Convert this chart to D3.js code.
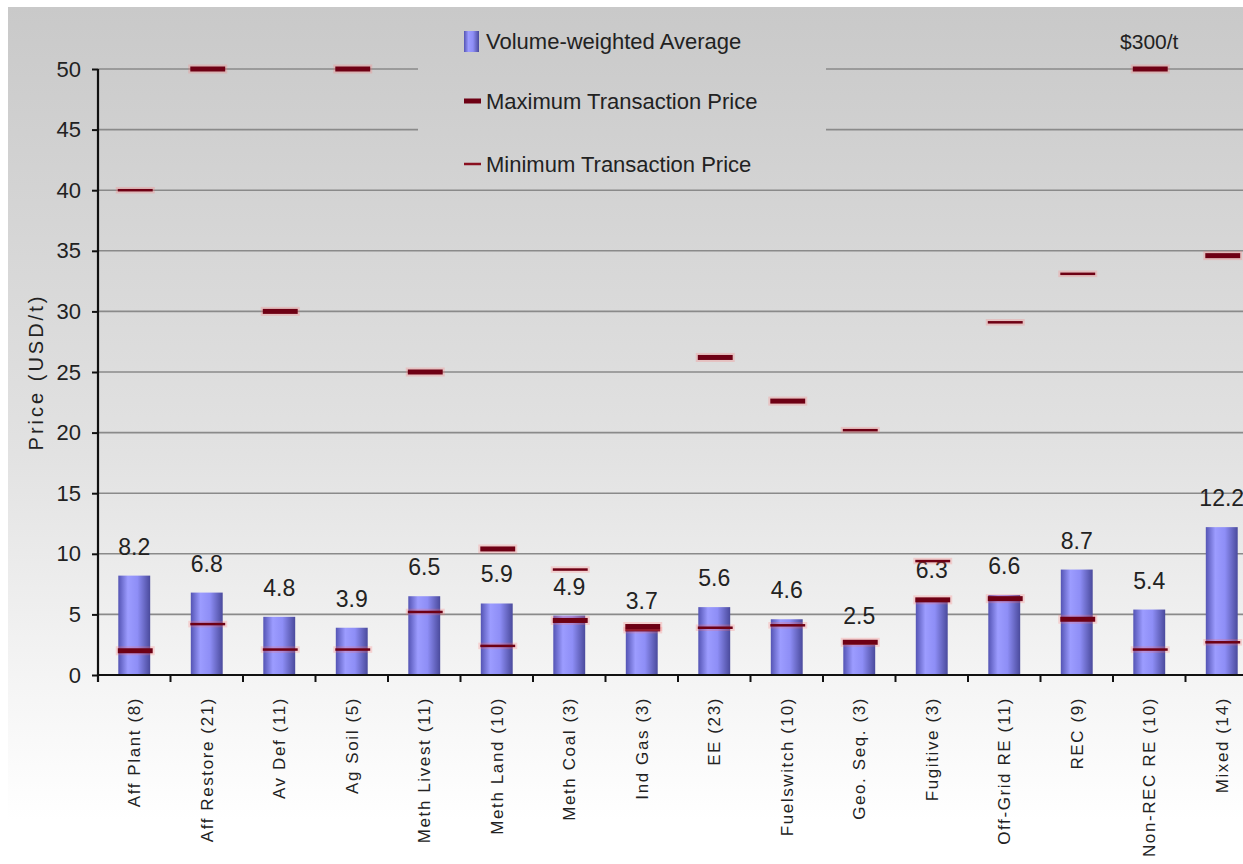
<!DOCTYPE html>
<html>
<head>
<meta charset="utf-8">
<script src="https://cdn.jsdelivr.net/npm/d3@7"></script>
<style>
  body { margin: 0; background: #fff; }
  svg { display: block; font-family: Arial, "Liberation Sans", sans-serif; }
</style>
</head>
<body>
<div id="chart"></div>
<script>
// data
const categories = ['Aff Plant (8)', 'Aff Restore (21)', 'Av Def (11)', 'Ag Soil (5)', 'Meth Livest (11)',
  'Meth Land (10)', 'Meth Coal (3)', 'Ind Gas (3)', 'EE (23)', 'Fuelswitch (10)', 'Geo. Seq. (3)',
  'Fugitive (3)', 'Off-Grid RE (11)', 'REC (9)', 'Non-REC RE (10)', 'Mixed (14)'];
const avgPrice = [8.2, 6.8, 4.8, 3.9, 6.5, 5.9, 4.9, 3.7, 5.6, 4.6, 2.5, 6.3, 6.6, 8.7, 5.4, 12.2];
const maxPrice = [2.0, 50, 30, 50, 25, 10.4, 4.5, 4.0, 26.2, 22.6, 2.7, 6.2, 6.3, 4.6, 50, 34.6];
const minPrice = [40, 4.2, 2.1, 2.1, 5.2, 2.4, 8.7, 3.7, 3.9, 4.1, 20.2, 9.4, 29.1, 33.1, 2.1, 2.7];
const yTicks = [0, 5, 10, 15, 20, 25, 30, 35, 40, 45, 50];
const legendLabels = ['Volume-weighted Average', 'Maximum Transaction Price', 'Minimum Transaction Price'];
const offScaleNote = '$300/t';

const w = 1243;
const h = 864;
const left = 98;
const bandW = 72.5;

const svg = d3.select('#chart')
              .append('svg')
              .attr('width', w)
              .attr('height', h);

const defs = svg.append('defs');

const bg = defs.append('linearGradient')
               .attr('id', 'bg')
               .attr('gradientUnits', 'userSpaceOnUse')
               .attr('x1', 0).attr('y1', 7).attr('x2', 0).attr('y2', 820);
bg.append('stop').attr('offset', '0%').attr('stop-color', '#c9c9c9');
bg.append('stop').attr('offset', '55%').attr('stop-color', '#e2e2e2');
bg.append('stop').attr('offset', '82%').attr('stop-color', '#f4f4f4');
bg.append('stop').attr('offset', '100%').attr('stop-color', '#ffffff');

const barGrad = defs.append('linearGradient')
                    .attr('id', 'bar')
                    .attr('x1', 0).attr('y1', 0).attr('x2', 1).attr('y2', 0);
barGrad.append('stop').attr('offset', '0%').attr('stop-color', '#5454b4');
barGrad.append('stop').attr('offset', '30%').attr('stop-color', '#9c9cff');
barGrad.append('stop').attr('offset', '60%').attr('stop-color', '#8e8ef6');
barGrad.append('stop').attr('offset', '100%').attr('stop-color', '#4a4a9c');

//Background
svg.append('rect')
   .attr('x', 8)
   .attr('y', 7)
   .attr('width', w - 8)
   .attr('height', h - 7)
   .attr('fill', 'url(#bg)');

//Scales
const xScale = d3.scaleBand()
                 .domain(categories)
                 .range([left, left + bandW * categories.length])
                 .padding(0);

const yScale = d3.scaleLinear()
                 .domain([0, 50])
                 .range([675, 69]);

const barW = xScale.bandwidth() * 0.44;

//Gridlines
svg.selectAll('line.grid')
   .data(yTicks.filter(d => d > 0))
   .enter()
   .append('line')
   .attr('class', 'grid')
   .attr('x1', left)
   .attr('x2', w)
   .attr('y1', d => yScale(d))
   .attr('y2', d => yScale(d))
   .attr('stroke', '#8a8a8a')
   .attr('stroke-width', 1.6);

//Legend box hides the gridlines behind it
svg.append('rect')
   .attr('x', 418)
   .attr('y', 8)
   .attr('width', 408)
   .attr('height', 172)
   .attr('fill', 'url(#bg)');

//Bars
svg.selectAll('rect.bar')
   .data(avgPrice)
   .enter()
   .append('rect')
   .attr('class', 'bar')
   .attr('x', (d, i) => xScale(categories[i]) + (xScale.bandwidth() - barW) / 2)
   .attr('y', d => yScale(d))
   .attr('width', barW)
   .attr('height', d => yScale(0) - yScale(d))
   .attr('fill', 'url(#bar)');

//Value labels
svg.selectAll('text.value')
   .data(avgPrice)
   .enter()
   .append('text')
   .attr('class', 'value')
   .attr('x', (d, i) => xScale(categories[i]) + xScale.bandwidth() / 2)
   .attr('y', d => yScale(d) - 21)
   .attr('text-anchor', 'middle')
   .attr('font-size', 23)
   .attr('fill', '#222')
   .text(d => d.toFixed(1));

//Markers
function drawMarkers(values, thick, cls) {
  const mW = barW + 3;
  const g = svg.append('g').attr('class', cls);
  g.selectAll('rect.glow')
   .data(values)
   .enter()
   .append('rect')
   .attr('x', (d, i) => xScale(categories[i]) + (xScale.bandwidth() - mW) / 2 - 1)
   .attr('y', d => yScale(d) - thick / 2 - 2)
   .attr('width', mW + 4)
   .attr('height', thick + 4)
   .attr('fill', '#ff7070')
   .attr('opacity', 0.25);
  g.selectAll('rect.mark')
   .data(values)
   .enter()
   .append('rect')
   .attr('x', (d, i) => xScale(categories[i]) + (xScale.bandwidth() - mW) / 2 + 1)
   .attr('y', d => yScale(d) - thick / 2)
   .attr('width', mW)
   .attr('height', thick)
   .attr('fill', '#6e0014');
}
drawMarkers(minPrice, 2.5, 'min');
drawMarkers(maxPrice, 5, 'max');

//Axes
const yAxis = d3.axisLeft(yScale)
                .tickValues(yTicks)
                .tickSize(6)
                .tickSizeOuter(0)
                .tickPadding(11);

const yG = svg.append('g')
              .attr('transform', `translate(${left}, 0)`)
              .call(yAxis);
yG.select('.domain').remove();
yG.selectAll('line').attr('stroke', '#111').attr('stroke-width', 2);
yG.selectAll('text')
  .attr('font-size', 22)
  .attr('font-family', 'Arial, "Liberation Sans", sans-serif')
  .attr('fill', '#222');

svg.append('line')
   .attr('x1', left).attr('x2', left)
   .attr('y1', yScale(50)).attr('y2', yScale(0) + 7)
   .attr('stroke', '#111')
   .attr('stroke-width', 2.2);

svg.append('line')
   .attr('x1', left).attr('x2', w)
   .attr('y1', yScale(0)).attr('y2', yScale(0))
   .attr('stroke', '#111')
   .attr('stroke-width', 2.2);

svg.selectAll('line.xtick')
   .data(categories)
   .enter()
   .append('line')
   .attr('class', 'xtick')
   .attr('x1', d => xScale(d))
   .attr('x2', d => xScale(d))
   .attr('y1', yScale(0))
   .attr('y2', yScale(0) + 7)
   .attr('stroke', '#111')
   .attr('stroke-width', 2);

//Category labels
svg.selectAll('text.cat')
   .data(categories)
   .enter()
   .append('text')
   .attr('class', 'cat')
   .attr('transform', d => `translate(${xScale(d) + xScale.bandwidth() / 2}, 697) rotate(-90)`)
   .attr('dy', '0.35em')
   .attr('text-anchor', 'end')
   .attr('font-size', 17)
   .attr('letter-spacing', 1.6)
   .attr('fill', '#222')
   .text(d => d);

//Axis title
svg.append('text')
   .attr('transform', 'translate(36, 372) rotate(-90)')
   .attr('dy', '0.35em')
   .attr('text-anchor', 'middle')
   .attr('font-size', 20)
   .attr('letter-spacing', 3)
   .attr('fill', '#222')
   .text('Price (USD/t)');

//Legend
const legendY = [41, 101, 164];
svg.append('rect')
   .attr('x', 464).attr('y', legendY[0] - 10)
   .attr('width', 15).attr('height', 21)
   .attr('fill', 'url(#bar)');
svg.append('rect')
   .attr('x', 464).attr('y', legendY[1] - 2.5)
   .attr('width', 17).attr('height', 5)
   .attr('fill', '#6e0014');
svg.append('rect')
   .attr('x', 464).attr('y', legendY[2] - 1.25)
   .attr('width', 17).attr('height', 2.5)
   .attr('fill', '#8a1020');

svg.selectAll('text.legend')
   .data(legendLabels)
   .enter()
   .append('text')
   .attr('class', 'legend')
   .attr('x', 486)
   .attr('y', (d, i) => legendY[i])
   .attr('dy', '0.35em')
   .attr('font-size', 22)
   .attr('fill', '#222')
   .text(d => d);

//Off-scale note
svg.append('text')
   .attr('x', xScale(categories[14]) + xScale.bandwidth() / 2)
   .attr('y', 49)
   .attr('text-anchor', 'middle')
   .attr('font-size', 21)
   .attr('fill', '#222')
   .text(offScaleNote);
</script>
</body>
</html>
